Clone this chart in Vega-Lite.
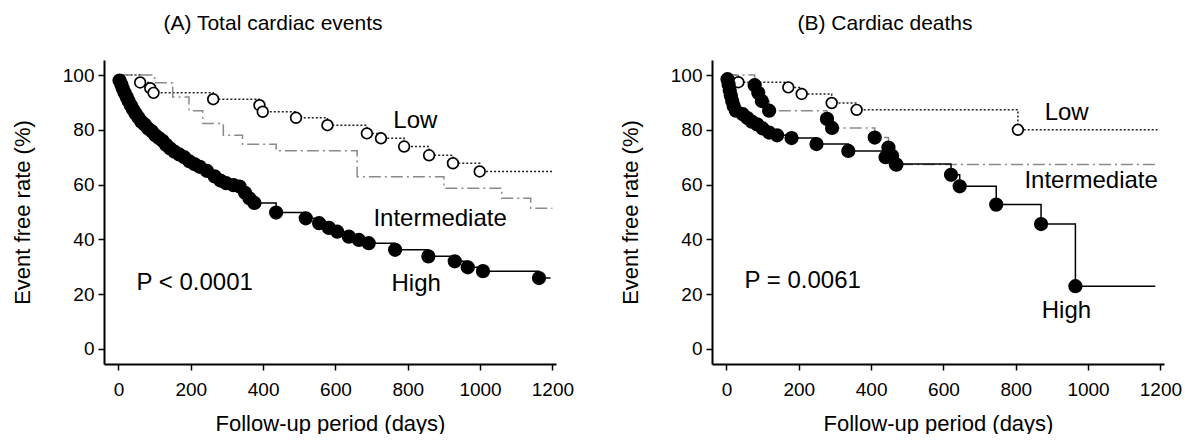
{
  "$schema": "https://vega.github.io/schema/vega-lite/v6.json",
  "autosize": {"type": "pad"},
  "padding": {"left": 11, "top": 13, "right": 0, "bottom": 0},
  "background": "white",
  "config": {
    "font": "Liberation Sans",
    "view": {"stroke": null},
    "axis": {"domainColor": "black", "domainWidth": 2, "tickColor": "black", "tickWidth": 1.5, "labelColor": "black", "titleColor": "black", "labelFont": "Liberation Sans", "titleFont": "Liberation Sans", "labelFontSize": 19, "titleFontSize": 22, "titleFontWeight": "normal", "grid": false},
    "title": {"font": "Liberation Sans", "fontSize": 21, "fontWeight": "normal", "color": "black"}
  },
  "datasets": {
    "km": [
      {"panel": "A", "group": "Low", "t": 0, "s": 100, "ev": 0},
      {"panel": "A", "group": "Low", "t": 60, "s": 97.3, "ev": 1},
      {"panel": "A", "group": "Low", "t": 88, "s": 95.2, "ev": 1},
      {"panel": "A", "group": "Low", "t": 97, "s": 93.5, "ev": 1},
      {"panel": "A", "group": "Low", "t": 262, "s": 91.2, "ev": 1},
      {"panel": "A", "group": "Low", "t": 390, "s": 89, "ev": 1},
      {"panel": "A", "group": "Low", "t": 399, "s": 86.6, "ev": 1},
      {"panel": "A", "group": "Low", "t": 491, "s": 84.4, "ev": 1},
      {"panel": "A", "group": "Low", "t": 578, "s": 81.7, "ev": 1},
      {"panel": "A", "group": "Low", "t": 687, "s": 78.7, "ev": 1},
      {"panel": "A", "group": "Low", "t": 726, "s": 76.9, "ev": 1},
      {"panel": "A", "group": "Low", "t": 790, "s": 73.9, "ev": 1},
      {"panel": "A", "group": "Low", "t": 859, "s": 70.7, "ev": 1},
      {"panel": "A", "group": "Low", "t": 925, "s": 67.8, "ev": 1},
      {"panel": "A", "group": "Low", "t": 999, "s": 64.8, "ev": 1},
      {"panel": "A", "group": "Low", "t": 1200, "s": 64.8, "ev": 0},

      {"panel": "A", "group": "Intermediate", "t": 0, "s": 100, "ev": 0},
      {"panel": "A", "group": "Intermediate", "t": 100, "s": 97.2, "ev": 0},
      {"panel": "A", "group": "Intermediate", "t": 150, "s": 92, "ev": 0},
      {"panel": "A", "group": "Intermediate", "t": 195, "s": 87, "ev": 0},
      {"panel": "A", "group": "Intermediate", "t": 233, "s": 82.3, "ev": 0},
      {"panel": "A", "group": "Intermediate", "t": 290, "s": 78, "ev": 0},
      {"panel": "A", "group": "Intermediate", "t": 343, "s": 74.7, "ev": 0},
      {"panel": "A", "group": "Intermediate", "t": 436, "s": 72.4, "ev": 0},
      {"panel": "A", "group": "Intermediate", "t": 660, "s": 62.9, "ev": 0},
      {"panel": "A", "group": "Intermediate", "t": 900, "s": 58.7, "ev": 0},
      {"panel": "A", "group": "Intermediate", "t": 1060, "s": 55, "ev": 0},
      {"panel": "A", "group": "Intermediate", "t": 1140, "s": 51.4, "ev": 0},
      {"panel": "A", "group": "Intermediate", "t": 1200, "s": 51.4, "ev": 0},

      {"panel": "A", "group": "High", "t": 0, "s": 100, "ev": 0},
      {"panel": "A", "group": "High", "t": 3, "s": 98, "ev": 1},
      {"panel": "A", "group": "High", "t": 8, "s": 96.5, "ev": 1},
      {"panel": "A", "group": "High", "t": 12, "s": 95, "ev": 1},
      {"panel": "A", "group": "High", "t": 17, "s": 93.5, "ev": 1},
      {"panel": "A", "group": "High", "t": 23, "s": 92, "ev": 1},
      {"panel": "A", "group": "High", "t": 28, "s": 90.5, "ev": 1},
      {"panel": "A", "group": "High", "t": 34, "s": 89, "ev": 1},
      {"panel": "A", "group": "High", "t": 40, "s": 87.5, "ev": 1},
      {"panel": "A", "group": "High", "t": 47, "s": 86, "ev": 1},
      {"panel": "A", "group": "High", "t": 55, "s": 84.5, "ev": 1},
      {"panel": "A", "group": "High", "t": 63, "s": 83, "ev": 1},
      {"panel": "A", "group": "High", "t": 72, "s": 82, "ev": 1},
      {"panel": "A", "group": "High", "t": 82, "s": 80.5, "ev": 1},
      {"panel": "A", "group": "High", "t": 92, "s": 79.5, "ev": 1},
      {"panel": "A", "group": "High", "t": 102, "s": 78, "ev": 1},
      {"panel": "A", "group": "High", "t": 112, "s": 77, "ev": 1},
      {"panel": "A", "group": "High", "t": 122, "s": 76, "ev": 1},
      {"panel": "A", "group": "High", "t": 132, "s": 74.5, "ev": 1},
      {"panel": "A", "group": "High", "t": 143, "s": 73.2, "ev": 1},
      {"panel": "A", "group": "High", "t": 155, "s": 72, "ev": 1},
      {"panel": "A", "group": "High", "t": 168, "s": 71, "ev": 1},
      {"panel": "A", "group": "High", "t": 182, "s": 70, "ev": 1},
      {"panel": "A", "group": "High", "t": 196, "s": 68.5, "ev": 1},
      {"panel": "A", "group": "High", "t": 210, "s": 67.5, "ev": 1},
      {"panel": "A", "group": "High", "t": 225, "s": 66.5, "ev": 1},
      {"panel": "A", "group": "High", "t": 245, "s": 65, "ev": 1},
      {"panel": "A", "group": "High", "t": 266, "s": 63, "ev": 1},
      {"panel": "A", "group": "High", "t": 282, "s": 61.5, "ev": 1},
      {"panel": "A", "group": "High", "t": 298, "s": 60.5, "ev": 1},
      {"panel": "A", "group": "High", "t": 318, "s": 59.8, "ev": 1},
      {"panel": "A", "group": "High", "t": 335, "s": 59.3, "ev": 1},
      {"panel": "A", "group": "High", "t": 350, "s": 57, "ev": 1},
      {"panel": "A", "group": "High", "t": 362, "s": 55, "ev": 1},
      {"panel": "A", "group": "High", "t": 376, "s": 53.3, "ev": 1},
      {"panel": "A", "group": "High", "t": 436, "s": 49.8, "ev": 1},
      {"panel": "A", "group": "High", "t": 518, "s": 47.7, "ev": 1},
      {"panel": "A", "group": "High", "t": 555, "s": 45.9, "ev": 1},
      {"panel": "A", "group": "High", "t": 582, "s": 44.2, "ev": 1},
      {"panel": "A", "group": "High", "t": 605, "s": 42.8, "ev": 1},
      {"panel": "A", "group": "High", "t": 637, "s": 41, "ev": 1},
      {"panel": "A", "group": "High", "t": 665, "s": 39.8, "ev": 1},
      {"panel": "A", "group": "High", "t": 692, "s": 38.6, "ev": 1},
      {"panel": "A", "group": "High", "t": 765, "s": 36.2, "ev": 1},
      {"panel": "A", "group": "High", "t": 857, "s": 33.8, "ev": 1},
      {"panel": "A", "group": "High", "t": 930, "s": 32, "ev": 1},
      {"panel": "A", "group": "High", "t": 966, "s": 29.8, "ev": 1},
      {"panel": "A", "group": "High", "t": 1008, "s": 28.4, "ev": 1},
      {"panel": "A", "group": "High", "t": 1163, "s": 25.9, "ev": 1},
      {"panel": "A", "group": "High", "t": 1195, "s": 25.9, "ev": 0},

      {"panel": "B", "group": "Low", "t": 0, "s": 100, "ev": 0},
      {"panel": "B", "group": "Low", "t": 33, "s": 97.4, "ev": 1},
      {"panel": "B", "group": "Low", "t": 171, "s": 95.5, "ev": 1},
      {"panel": "B", "group": "Low", "t": 208, "s": 93.1, "ev": 1},
      {"panel": "B", "group": "Low", "t": 291, "s": 89.8, "ev": 1},
      {"panel": "B", "group": "Low", "t": 360, "s": 87.3, "ev": 1},
      {"panel": "B", "group": "Low", "t": 806, "s": 80, "ev": 1},
      {"panel": "B", "group": "Low", "t": 1192, "s": 80, "ev": 0},

      {"panel": "B", "group": "Intermediate", "t": 0, "s": 100, "ev": 0},
      {"panel": "B", "group": "Intermediate", "t": 78, "s": 96.3, "ev": 1},
      {"panel": "B", "group": "Intermediate", "t": 88, "s": 93.5, "ev": 1},
      {"panel": "B", "group": "Intermediate", "t": 98, "s": 90.5, "ev": 1},
      {"panel": "B", "group": "Intermediate", "t": 118, "s": 87, "ev": 1},
      {"panel": "B", "group": "Intermediate", "t": 278, "s": 84, "ev": 1},
      {"panel": "B", "group": "Intermediate", "t": 292, "s": 80.7, "ev": 1},
      {"panel": "B", "group": "Intermediate", "t": 410, "s": 77.2, "ev": 1},
      {"panel": "B", "group": "Intermediate", "t": 448, "s": 73.5, "ev": 1},
      {"panel": "B", "group": "Intermediate", "t": 458, "s": 70.5, "ev": 1},
      {"panel": "B", "group": "Intermediate", "t": 470, "s": 67.3, "ev": 1},
      {"panel": "B", "group": "Intermediate", "t": 1190, "s": 67.3, "ev": 0},

      {"panel": "B", "group": "High", "t": 0, "s": 100, "ev": 0},
      {"panel": "B", "group": "High", "t": 3, "s": 98.5, "ev": 1},
      {"panel": "B", "group": "High", "t": 6, "s": 96.5, "ev": 1},
      {"panel": "B", "group": "High", "t": 9, "s": 94.5, "ev": 1},
      {"panel": "B", "group": "High", "t": 12, "s": 92.5, "ev": 1},
      {"panel": "B", "group": "High", "t": 16, "s": 90.5, "ev": 1},
      {"panel": "B", "group": "High", "t": 20, "s": 88.7, "ev": 1},
      {"panel": "B", "group": "High", "t": 26, "s": 87, "ev": 1},
      {"panel": "B", "group": "High", "t": 45, "s": 85.7, "ev": 1},
      {"panel": "B", "group": "High", "t": 58, "s": 84.3, "ev": 1},
      {"panel": "B", "group": "High", "t": 70, "s": 83, "ev": 1},
      {"panel": "B", "group": "High", "t": 85, "s": 82, "ev": 1},
      {"panel": "B", "group": "High", "t": 100, "s": 80.5, "ev": 1},
      {"panel": "B", "group": "High", "t": 118, "s": 79, "ev": 1},
      {"panel": "B", "group": "High", "t": 140, "s": 78, "ev": 1},
      {"panel": "B", "group": "High", "t": 180, "s": 77, "ev": 1},
      {"panel": "B", "group": "High", "t": 249, "s": 74.8, "ev": 1},
      {"panel": "B", "group": "High", "t": 337, "s": 72.3, "ev": 1},
      {"panel": "B", "group": "High", "t": 440, "s": 70, "ev": 1},
      {"panel": "B", "group": "High", "t": 468, "s": 67.5, "ev": 1},
      {"panel": "B", "group": "High", "t": 621, "s": 63.6, "ev": 1},
      {"panel": "B", "group": "High", "t": 645, "s": 59.4, "ev": 1},
      {"panel": "B", "group": "High", "t": 746, "s": 52.7, "ev": 1},
      {"panel": "B", "group": "High", "t": 870, "s": 45.6, "ev": 1},
      {"panel": "B", "group": "High", "t": 965, "s": 22.9, "ev": 1},
      {"panel": "B", "group": "High", "t": 1186, "s": 22.9, "ev": 0}
    ],
    "labels": [
      {"panel": "A", "label": "Low", "t": 760, "s": 80.7},
      {"panel": "A", "label": "Intermediate", "t": 705, "s": 44.9},
      {"panel": "A", "label": "High", "t": 755, "s": 21.2},
      {"panel": "A", "label": "P < 0.0001", "t": 50, "s": 21.6},
      {"panel": "B", "label": "Low", "t": 880, "s": 83.7},
      {"panel": "B", "label": "Intermediate", "t": 824, "s": 58.8},
      {"panel": "B", "label": "High", "t": 872, "s": 11.3},
      {"panel": "B", "label": "P = 0.0061", "t": 50, "s": 22.3}
    ]
  },
  "spacing": 156,
  "bounds": "flush",
  "hconcat": [
    {
      "width": 452,
      "height": 304,
      "title": {"text": "(A) Total cardiac events", "anchor": "middle", "frame": "group", "dx": -57, "offset": 26},
      "layer": [
        {
          "data": {"name": "km"},
          "transform": [{"filter": "datum.panel === 'A'"}],
          "mark": {"type": "line", "interpolate": "step-after", "strokeWidth": 1.5},
          "encoding": {
            "x": {"field": "t", "type": "quantitative", "scale": {"domain": [-40, 1210], "nice": false, "zero": false}, "axis": {"values": [0, 200, 400, 600, 800, 1000, 1200], "format": "d", "title": "Follow-up period (days)", "tickSize": 6, "labelPadding": 10, "titlePadding": 14}},
            "y": {"field": "s", "type": "quantitative", "scale": {"domain": [-5.5, 105.5], "nice": false, "zero": false}, "axis": {"values": [0, 20, 40, 60, 80, 100], "title": "Event free rate (%)", "tickSize": 6, "labelPadding": 4, "titlePadding": 28}},
            "detail": {"field": "group"},
            "strokeDash": {"field": "group", "type": "nominal", "scale": {"domain": ["Low", "Intermediate", "High"], "range": [[2, 2], [12, 4, 2, 4], [1, 0]]}, "legend": null},
            "color": {"field": "group", "type": "nominal", "scale": {"domain": ["Low", "Intermediate", "High"], "range": ["#222222", "#8a8a8a", "#000000"]}, "legend": null}
          }
        },
        {
          "data": {"name": "km"},
          "transform": [{"filter": "datum.panel === 'A' && datum.ev === 1 && datum.group === 'Low'"}],
          "mark": {"type": "point", "shape": "circle", "fill": "white", "stroke": "black", "strokeWidth": 1.7, "size": 115, "opacity": 1},
          "encoding": {"x": {"field": "t", "type": "quantitative"}, "y": {"field": "s", "type": "quantitative"}}
        },
        {
          "data": {"name": "km"},
          "transform": [{"filter": "datum.panel === 'A' && datum.ev === 1 && datum.group !== 'Low'"}],
          "mark": {"type": "point", "shape": "circle", "filled": true, "fill": "black", "stroke": "black", "size": 150, "opacity": 1},
          "encoding": {"x": {"field": "t", "type": "quantitative"}, "y": {"field": "s", "type": "quantitative"}}
        },
        {
          "data": {"name": "labels"},
          "transform": [{"filter": "datum.panel === 'A'"}],
          "mark": {"type": "text", "align": "left", "baseline": "alphabetic", "fontSize": 24, "font": "Liberation Sans", "color": "black"},
          "encoding": {"x": {"field": "t", "type": "quantitative"}, "y": {"field": "s", "type": "quantitative"}, "text": {"field": "label"}}
        }
      ]
    },
    {
      "width": 452,
      "height": 304,
      "title": {"text": "(B) Cardiac deaths", "anchor": "middle", "frame": "group", "dx": -53, "offset": 26},
      "layer": [
        {
          "data": {"name": "km"},
          "transform": [{"filter": "datum.panel === 'B'"}],
          "mark": {"type": "line", "interpolate": "step-after", "strokeWidth": 1.5},
          "encoding": {
            "x": {"field": "t", "type": "quantitative", "scale": {"domain": [-40, 1210], "nice": false, "zero": false}, "axis": {"values": [0, 200, 400, 600, 800, 1000, 1200], "format": "d", "title": "Follow-up period (days)", "tickSize": 6, "labelPadding": 10, "titlePadding": 14}},
            "y": {"field": "s", "type": "quantitative", "scale": {"domain": [-5.5, 105.5], "nice": false, "zero": false}, "axis": {"values": [0, 20, 40, 60, 80, 100], "title": "Event free rate (%)", "tickSize": 6, "labelPadding": 4, "titlePadding": 28}},
            "detail": {"field": "group"},
            "strokeDash": {"field": "group", "type": "nominal", "scale": {"domain": ["Low", "Intermediate", "High"], "range": [[2, 2], [12, 4, 2, 4], [1, 0]]}, "legend": null},
            "color": {"field": "group", "type": "nominal", "scale": {"domain": ["Low", "Intermediate", "High"], "range": ["#222222", "#8a8a8a", "#000000"]}, "legend": null}
          }
        },
        {
          "data": {"name": "km"},
          "transform": [{"filter": "datum.panel === 'B' && datum.ev === 1 && datum.group === 'Low'"}],
          "mark": {"type": "point", "shape": "circle", "fill": "white", "stroke": "black", "strokeWidth": 1.7, "size": 115, "opacity": 1},
          "encoding": {"x": {"field": "t", "type": "quantitative"}, "y": {"field": "s", "type": "quantitative"}}
        },
        {
          "data": {"name": "km"},
          "transform": [{"filter": "datum.panel === 'B' && datum.ev === 1 && datum.group !== 'Low'"}],
          "mark": {"type": "point", "shape": "circle", "filled": true, "fill": "black", "stroke": "black", "size": 150, "opacity": 1},
          "encoding": {"x": {"field": "t", "type": "quantitative"}, "y": {"field": "s", "type": "quantitative"}}
        },
        {
          "data": {"name": "labels"},
          "transform": [{"filter": "datum.panel === 'B'"}],
          "mark": {"type": "text", "align": "left", "baseline": "alphabetic", "fontSize": 24, "font": "Liberation Sans", "color": "black"},
          "encoding": {"x": {"field": "t", "type": "quantitative"}, "y": {"field": "s", "type": "quantitative"}, "text": {"field": "label"}}
        }
      ]
    }
  ]
}
